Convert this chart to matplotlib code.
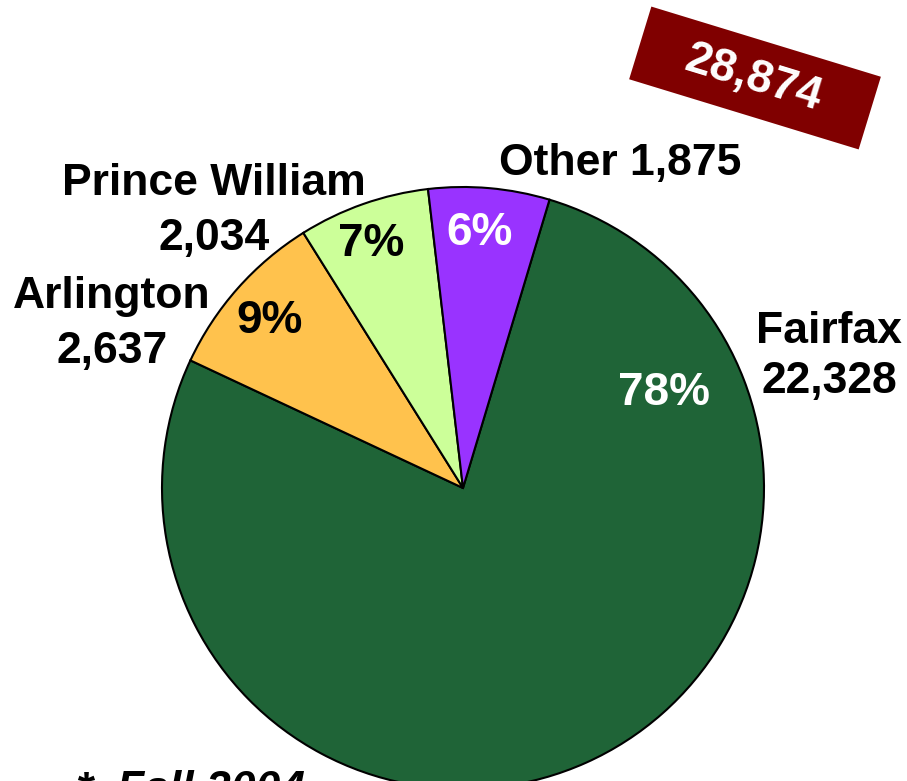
import matplotlib.pyplot as plt
from matplotlib.patches import Rectangle
import matplotlib.transforms as mtransforms

plt.rcParams['font.family'] = ['Liberation Sans', 'DejaVu Sans']
plt.rcParams['font.weight'] = 'bold'

# Enrollment by jurisdiction
regions = ['Fairfax', 'Arlington', 'Prince William', 'Other']
counts = [22328, 2637, 2034, 1875]
pct_labels = ['78%', '9%', '7%', '6%']
colors = ['#1F6437', '#FFC24D', '#CCFF99', '#9933FF']
pct_colors = ['white', 'black', 'black', 'white']
total_label = '28,874'

W, H = 907, 781
fig = plt.figure(figsize=(W / 100, H / 100), dpi=100)
ax = fig.add_axes([0, 0, 1, 1])

cx, cy, r = 463, H - 488, 301
ax.pie(counts, colors=colors, startangle=73.3, counterclock=False,
       center=(cx, cy), radius=r, frame=True,
       wedgeprops=dict(edgecolor='black', linewidth=1.5))
ax.set_xlim(0, W)
ax.set_ylim(0, H)
ax.set_aspect('equal')
ax.axis('off')

# percentage labels inside the wedges (x centre, baseline y from top)
pct_pos = [(664, 405), (270, 333), (371, 256), (480, 245)]
for (px, py), txt, c in zip(pct_pos, pct_labels, pct_colors):
    ax.text(px, H - py, txt, color=c, fontsize=33, fontweight='bold',
            ha='center', va='baseline')

# outside name / count labels, one text per line
name_labels = [
    (829, [343, 393], ['Fairfax', '22,328']),
    (112, [308, 363], ['Arlington', '2,637']),
    (214, [195, 250], ['Prince William', '2,034']),
    (620, [175], ['Other 1,875']),
]
for px, baselines, lines in name_labels:
    for py, txt in zip(baselines, lines):
        ax.text(px, H - py, txt, fontsize=32, fontweight='bold',
                ha='center', va='baseline', color='black')

# rotated total box
bx, by = 755, H - 78
box = Rectangle((bx - 120, by - 38), 240, 76, facecolor='#800000',
                edgecolor='none')
box.set_transform(mtransforms.Affine2D().rotate_deg_around(bx, by, -17) + ax.transData)
ax.add_patch(box)
ax.text(bx - 2, by, total_label, color='white', fontsize=33, fontweight='bold',
        ha='center', va='center', rotation=-17, rotation_mode='anchor')

ax.text(75, H - 802, '*', fontsize=32, fontweight='bold',
        style='italic', ha='left', va='baseline')
ax.text(117, H - 802, 'Fall 2004', fontsize=32, fontweight='bold',
        style='italic', ha='left', va='baseline')

fig.savefig('out.png', dpi=100)
